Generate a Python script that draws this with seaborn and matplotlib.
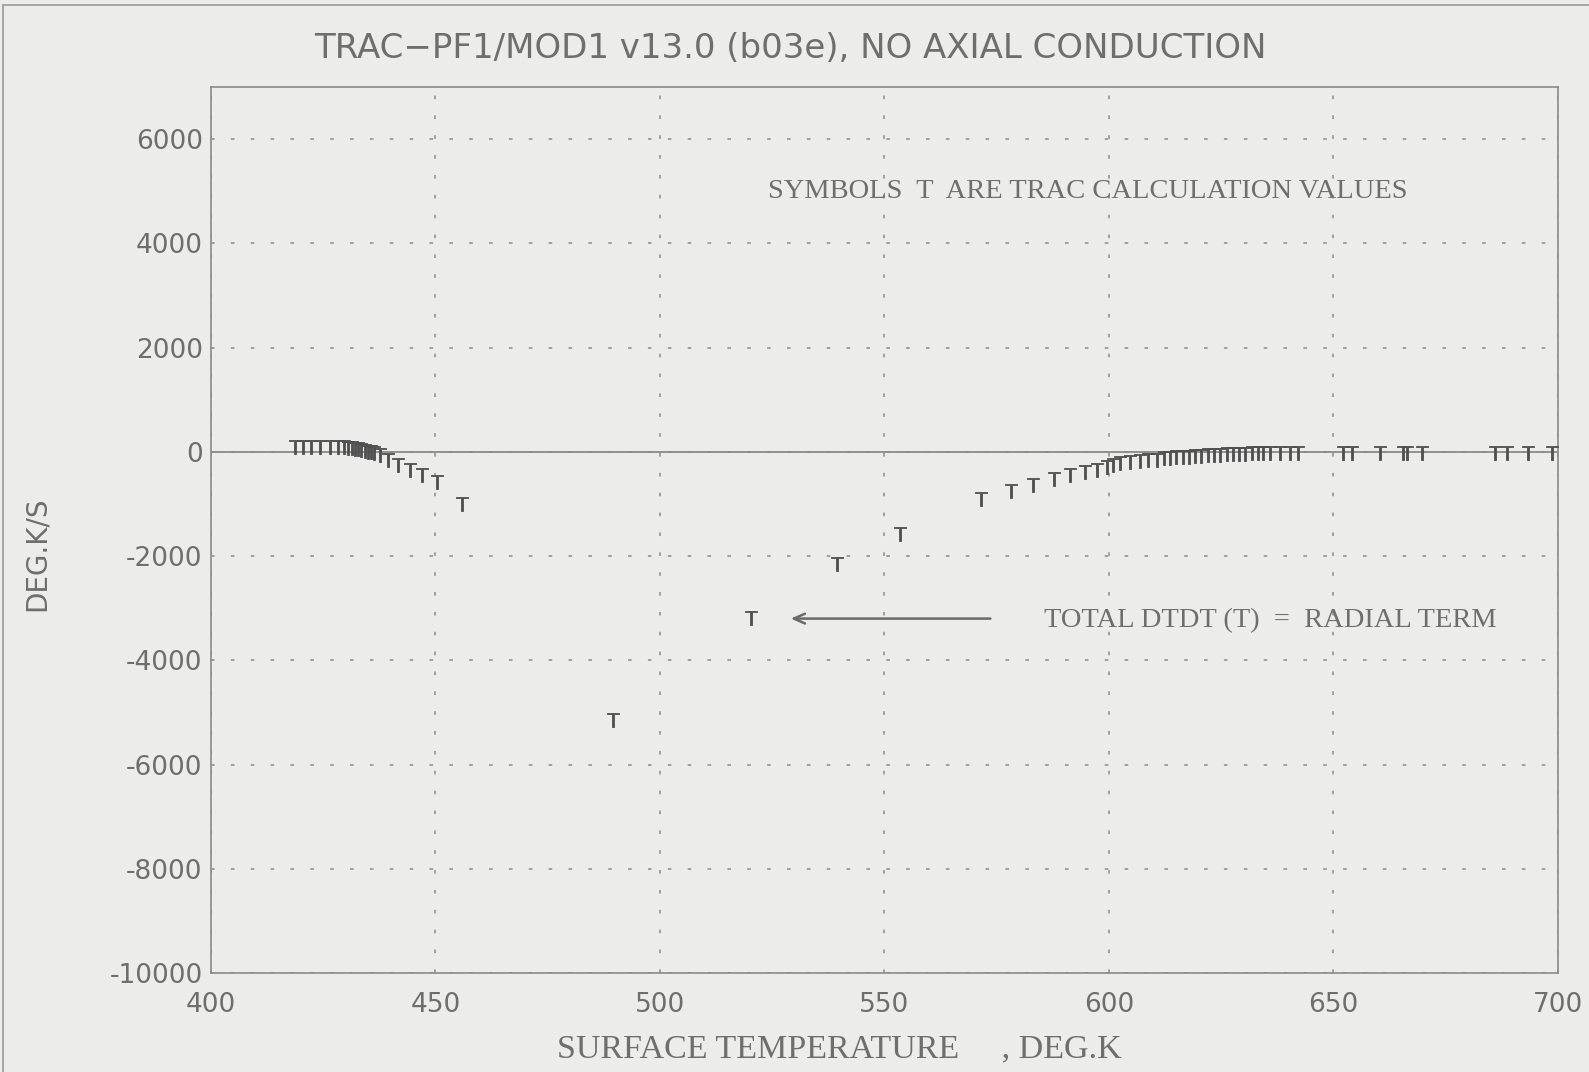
import matplotlib
matplotlib.use("Agg")
import matplotlib.pyplot as plt
import seaborn as sns
import pandas as pd
from matplotlib.lines import Line2D

# ---- data ----
surface_temp = [418.7, 420.4, 422.3, 424.3, 426.5, 428.2, 429.6, 430.6, 431.4, 432.1,
                432.8, 433.5, 434.2, 434.9, 435.6, 436.4, 437.6, 439.4, 441.6, 444.3,
                447.0, 450.3, 455.9,
                489.5, 520.3, 539.4, 553.5, 571.6, 578.2, 583.1, 587.7, 591.3, 594.7,
                597.3, 599.6, 600.9, 602.4, 604.7, 606.9, 608.7, 610.7,
                612.2, 613.6, 615.0, 616.4, 617.8, 619.2, 620.6, 622.0, 623.4, 624.8,
                626.2, 627.6, 629.0, 630.4, 631.8, 633.2, 634.4,
                635.9, 638.1, 640.3, 642.1,
                652.1, 654.1, 660.4, 665.5, 666.4, 669.7, 686.0, 688.6, 693.3, 698.7]
dtdt = [100, 100, 95, 95, 90, 90, 85, 80, 70, 60,
        50, 35, 20, 5, -10, -30, -60, -150, -250, -340,
        -440, -570, -1010,
        -5150, -3180, -2150, -1580, -910, -760, -630, -530, -440, -390,
        -340, -290, -250, -210, -200, -185, -165, -150,
        -125, -115, -105, -100, -90, -85, -75, -70, -60, -55,
        -50, -45, -40, -35, -30, -25, -20,
        -20, -20, -20, -20,
        -20, -20, -20, -20, -20, -20, -20, -20, -20, -20]

x_ticks = [400, 450, 500, 550, 600, 650, 700]
y_ticks = [-10000, -8000, -6000, -4000, -2000, 0, 2000, 4000, 6000]

title = "TRAC\u2212PF1/MOD1 v13.0 (b03e), NO AXIAL CONDUCTION"
x_label = "SURFACE TEMPERATURE     , DEG.K"
y_label = "DEG.K/S"
note_symbols = "SYMBOLS  T  ARE TRAC CALCULATION VALUES"
note_total = "TOTAL DTDT (T)  =  RADIAL TERM"

df = pd.DataFrame({"temp": surface_temp, "dtdt": dtdt})

sns.set_style("white")
plt.rcParams["font.family"] = ["DejaVu Sans"]
plt.rcParams["axes.unicode_minus"] = False

BG = "#ececea"
TXT = "#6e6e6e"
MK = "#505050"

fig = plt.figure(figsize=(15.89, 10.72), dpi=100, facecolor=BG)
ax = fig.add_axes([211/1589, 1 - 973/1072, (1558 - 211)/1589, (973 - 87)/1072])
ax.set_facecolor(BG)

sns.scatterplot(data=df, x="temp", y="dtdt", marker=r"$\mathrm{T}$", s=110,
                color=MK, edgecolor=MK, linewidth=0.6, ax=ax, legend=False, zorder=3)

ax.set_xlim(400, 700)
ax.set_ylim(-10000, 7000)
ax.set_xticks(x_ticks)
ax.set_yticks(y_ticks)
ax.set_xticklabels([str(v) for v in x_ticks])
ax.set_yticklabels([str(v) for v in y_ticks])
ax.tick_params(axis="both", length=0, labelsize=19, labelcolor=TXT)
ax.tick_params(axis="x", pad=14)
ax.tick_params(axis="y", pad=6)
ax.set_xlabel("")
ax.set_ylabel("")

for sp in ax.spines.values():
    sp.set_color("#8a8a8a")
    sp.set_linewidth(1.2)

ax.grid(True, color="#9a9a9a", linestyle=(0, (2, 9)), linewidth=1.3)
ax.axhline(0, color="#8a8a8a", linewidth=1.3, zorder=2)

ax.text(524, 5000, note_symbols, family="Liberation Serif", fontsize=20.5,
        color=TXT, ha="left", va="center")
ax.text(585.5, -3240, note_total, family="Liberation Serif", fontsize=20.5,
        color=TXT, ha="left", va="center")
ax.annotate("", xy=(528.5, -3200), xytext=(574.2, -3200),
            arrowprops=dict(arrowstyle="->,head_length=0.8,head_width=0.35",
                            color="#6a6a6a", lw=1.8))

fig.text(790/1589, 1 - 48/1072, title, fontsize=24.5, color=TXT,
         ha="center", va="center")
fig.text(839/1589, 1 - 1049/1072, x_label, family="Liberation Serif",
         fontsize=24.5, color=TXT, ha="center", va="center")
fig.text(37/1589, 1 - 554/1072, y_label, fontsize=20, color=TXT,
         ha="center", va="center", rotation=90)

fig.add_artist(Line2D([3/1589, 1], [1 - 5/1072, 1 - 5/1072],
                      transform=fig.transFigure, color="#9a9a9a", lw=1.2))
fig.add_artist(Line2D([3/1589, 3/1589], [0, 1 - 5/1072],
                      transform=fig.transFigure, color="#9a9a9a", lw=1.2))

fig.savefig("out.png", dpi=100, facecolor=BG)
